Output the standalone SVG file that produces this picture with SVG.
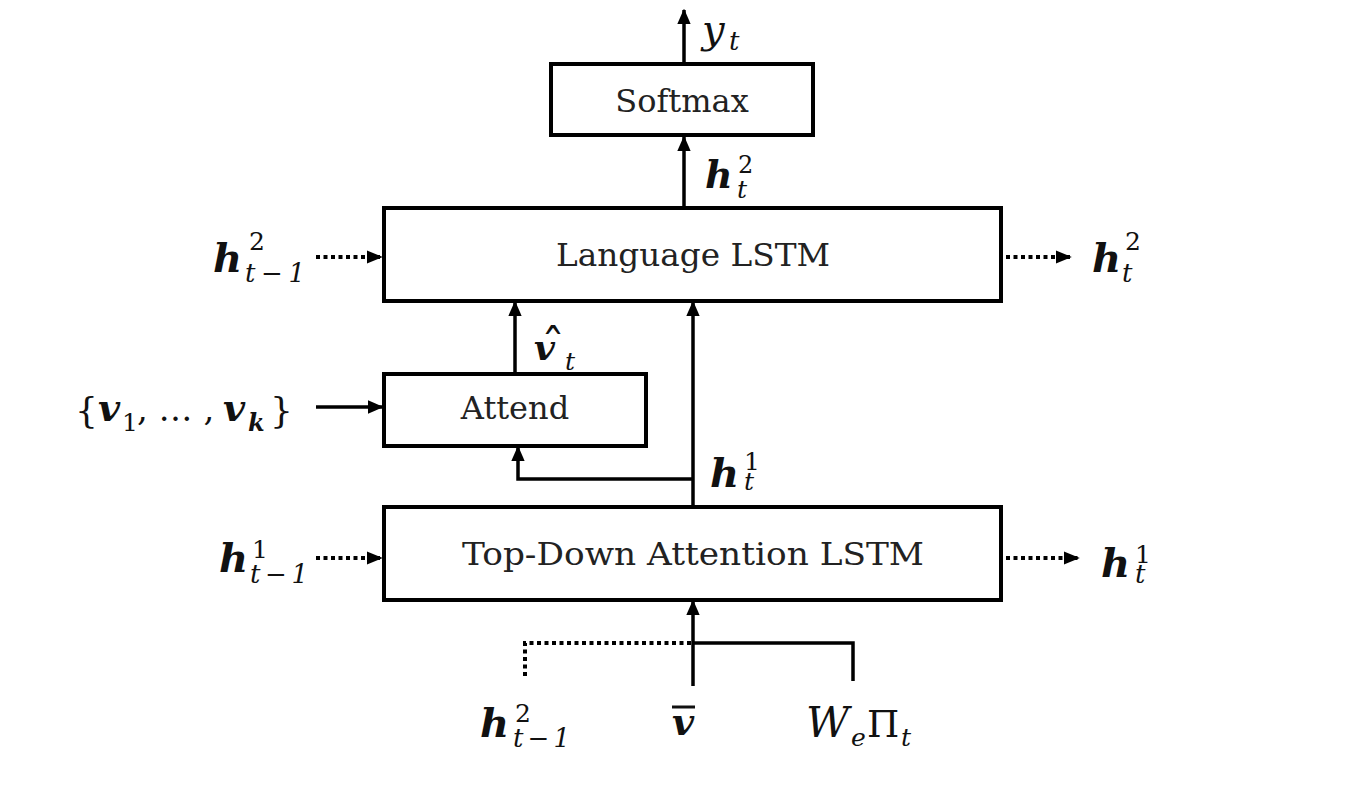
<svg xmlns="http://www.w3.org/2000/svg" width="1354" height="788" viewBox="0 0 1354 788">
<style>
.box{fill:#fff;stroke:#000;stroke-width:4}
.lbl{font-family:"DejaVu Serif","Liberation Serif",serif;font-size:32px;fill:#222}
.mt{font-family:"DejaVu Serif","Liberation Serif",serif;fill:#111}
.i{font-style:italic}
.b{font-style:italic;font-weight:bold}
.ln{fill:none;stroke:#000;stroke-width:3.5}
.dot{fill:none;stroke:#000;stroke-width:4;stroke-dasharray:4 3.5}
</style>
<defs>
<marker id="ah" markerWidth="4.4" markerHeight="3.8" refX="4" refY="1.9" orient="auto" markerUnits="strokeWidth"><path d="M0,0 L4.4,1.9 L0,3.8 Z" fill="#000"/></marker>
<marker id="ahd" markerWidth="4" markerHeight="3.3" refX="3.8" refY="1.65" orient="auto" markerUnits="strokeWidth"><path d="M0,0 L4,1.65 L0,3.3 Z" fill="#000"/></marker>
</defs>
<rect width="1354" height="788" fill="#fff"/>

<g id="connectors">
<line class="ln" x1="684" y1="63" x2="684" y2="10" marker-end="url(#ah)"/>
<line class="ln" x1="684" y1="207" x2="684" y2="137" marker-end="url(#ah)"/>
<line class="dot" x1="316" y1="257" x2="382" y2="257" marker-end="url(#ahd)"/>
<line class="dot" x1="1006" y1="257" x2="1071" y2="257" marker-end="url(#ahd)"/>
<line class="ln" x1="515" y1="373" x2="515" y2="302" marker-end="url(#ah)"/>
<line class="ln" x1="316" y1="407" x2="382" y2="407" marker-end="url(#ah)"/>
<line class="ln" x1="693" y1="506" x2="693" y2="302" marker-end="url(#ah)"/>
<polyline class="ln" points="693,479 518,479 518,447" marker-end="url(#ah)"/>
<line class="dot" x1="316" y1="558" x2="382" y2="558" marker-end="url(#ahd)"/>
<line class="dot" x1="1006" y1="558" x2="1079" y2="558" marker-end="url(#ahd)"/>
<line class="ln" x1="693" y1="686" x2="693" y2="601" marker-end="url(#ah)"/>
<polyline class="ln" points="693,643 853,643 853,681"/>
<polyline class="dot" points="691,643 525,643 525,677"/>
</g>

<g id="softmax">
<rect class="box" x="551" y="64" width="262" height="71"/>
<text class="lbl" x="682" y="112" text-anchor="middle">Softmax</text>
</g>

<g id="language-lstm">
<rect class="box" x="384" y="208" width="617" height="93"/>
<text class="lbl" x="693" y="266" text-anchor="middle" textLength="274" lengthAdjust="spacingAndGlyphs">Language LSTM</text>
</g>

<g id="attend">
<rect class="box" x="384" y="374" width="262" height="72"/>
<text class="lbl" x="515" y="419" text-anchor="middle">Attend</text>
</g>

<g id="topdown-lstm">
<rect class="box" x="384" y="507" width="617" height="93"/>
<text class="lbl" x="693" y="565" text-anchor="middle" textLength="462" lengthAdjust="spacingAndGlyphs">Top-Down Attention LSTM</text>
</g>

<g id="labels">
<text class="mt"><tspan class="i" x="702" y="43" font-size="40">y</tspan><tspan class="i" x="729" y="50" font-size="26">t</tspan></text>

<text class="mt"><tspan class="b" x="705" y="188" font-size="38">h</tspan><tspan x="738" y="173" font-size="24">2</tspan><tspan class="i" x="737" y="198" font-size="25">t</tspan></text>

<text class="mt"><tspan class="b" x="213" y="272" font-size="40">h</tspan><tspan x="249" y="250" font-size="25">2</tspan><tspan class="i" x="245" y="282" font-size="26" textLength="60" lengthAdjust="spacing">t−1</tspan></text>

<text class="mt"><tspan class="b" x="1092" y="272" font-size="40">h</tspan><tspan x="1125" y="250" font-size="25">2</tspan><tspan class="i" x="1122" y="282" font-size="26">t</tspan></text>

<text class="mt"><tspan class="b" x="534" y="360" font-size="36">v</tspan><tspan x="541" y="364" font-size="48">ˆ</tspan><tspan class="i" x="565" y="370" font-size="25">t</tspan></text>

<text class="mt"><tspan x="75" y="423" font-size="36">{</tspan><tspan class="b" x="98" y="421" font-size="38">v</tspan><tspan x="122" y="431" font-size="25">1</tspan><tspan x="137" y="421" font-size="34">, … ,</tspan><tspan class="b" x="223" y="421" font-size="38">v</tspan><tspan class="b" x="248" y="431" font-size="24">k</tspan><tspan x="270" y="423" font-size="36">}</tspan></text>

<text class="mt"><tspan class="b" x="710" y="487" font-size="40">h</tspan><tspan x="744" y="470" font-size="25">1</tspan><tspan class="i" x="744" y="490" font-size="25">t</tspan></text>

<text class="mt"><tspan class="b" x="219" y="572" font-size="40">h</tspan><tspan x="252" y="558" font-size="25">1</tspan><tspan class="i" x="250" y="583" font-size="26" textLength="58" lengthAdjust="spacing">t−1</tspan></text>

<text class="mt"><tspan class="b" x="1101" y="577" font-size="40">h</tspan><tspan x="1135" y="563" font-size="25">1</tspan><tspan class="i" x="1135" y="583" font-size="26">t</tspan></text>

<text class="mt"><tspan class="b" x="480" y="737" font-size="40">h</tspan><tspan x="515" y="722" font-size="25">2</tspan><tspan class="i" x="513" y="747" font-size="26" textLength="57" lengthAdjust="spacing">t−1</tspan></text>

<text class="mt"><tspan class="b" x="672" y="735" font-size="38">v</tspan></text>
<line x1="672" y1="707" x2="695" y2="707" stroke="#111" stroke-width="3"/>

<text class="mt"><tspan class="i" x="806" y="737" font-size="42">W</tspan><tspan class="i" x="851" y="746" font-size="25">e</tspan><tspan x="867" y="737" font-size="37">Π</tspan><tspan class="i" x="901" y="746" font-size="25">t</tspan></text>
</g>
</svg>
